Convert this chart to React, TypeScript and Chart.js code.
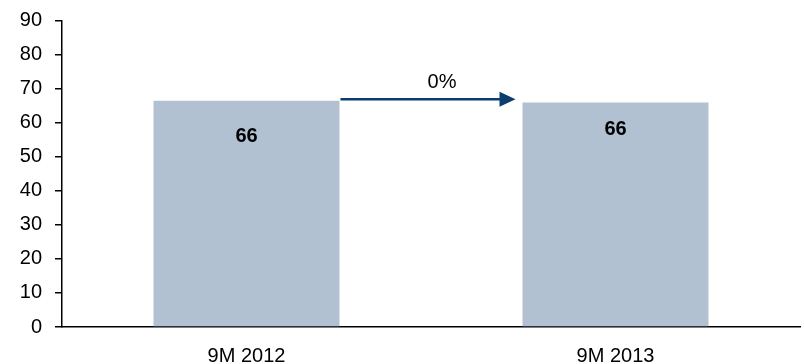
import React, { useEffect, useRef } from "react";
import { Chart, registerables } from "chart.js";

Chart.register(...registerables);

const categories = ["9M 2012", "9M 2013"];
const values = [66.4, 65.9];
const valueLabels = ["66", "66"];
const changeLabel = "0%";
const yTicks = [0, 10, 20, 30, 40, 50, 60, 70, 80, 90];

const FONT = "'Liberation Sans', Arial, sans-serif";
const labelOffsets = [36, 27];

const overlayPlugin = {
  id: "overlay",
  afterDatasetsDraw(chart: any) {
    const ctx = chart.ctx;
    const meta = chart.getDatasetMeta(0);
    const bars = meta.data;
    ctx.save();
    // value labels
    ctx.fillStyle = "#000";
    ctx.font = `bold 20px ${FONT}`;
    ctx.textAlign = "center";
    ctx.textBaseline = "middle";
    bars.forEach((b: any, i: number) => {
      ctx.fillText(valueLabels[i], b.x, b.y + labelOffsets[i]);
    });
    // arrow
    const b1 = bars[0].getProps(["x", "y", "width"], true);
    const b2 = bars[1].getProps(["x", "y", "width"], true);
    const x0 = b1.x + b1.width / 2 + 1;
    const x1 = b2.x - b2.width / 2 - 7;
    const y = b1.y - 1.5;
    const headLen = 16;
    ctx.strokeStyle = "#0B3D6E";
    ctx.fillStyle = "#0B3D6E";
    ctx.lineWidth = 2.5;
    ctx.beginPath();
    ctx.moveTo(x0, y);
    ctx.lineTo(x1 - headLen + 2, y);
    ctx.stroke();
    ctx.beginPath();
    ctx.moveTo(x1, y);
    ctx.lineTo(x1 - headLen, y - 7.5);
    ctx.lineTo(x1 - headLen, y + 7.5);
    ctx.closePath();
    ctx.fill();
    // change label
    ctx.fillStyle = "#000";
    ctx.font = `20px ${FONT}`;
    ctx.fillText(changeLabel, (x0 + x1) / 2 + 14, y - 17);
    ctx.restore();
  },
};

export default function App() {
  const ref = useRef<HTMLCanvasElement>(null);
  useEffect(() => {
    if (!ref.current) return;
    const chart = new Chart(ref.current, {
      type: "bar",
      data: {
        labels: categories,
        datasets: [
          {
            data: values,
            backgroundColor: "#B1C1D1",
            borderWidth: 0,
            categoryPercentage: 1,
            barPercentage: 0.504,
          },
        ],
      },
      options: {
        responsive: false,
        animation: false,
        layout: { padding: { top: 20.5, right: 4, left: 0, bottom: 0 } },
        plugins: { legend: { display: false }, tooltip: { enabled: false } },
        scales: {
          x: {
            grid: { display: false },
            border: { display: true, color: "#000", width: 1.5 },
            ticks: {
              color: "#000",
              font: { family: FONT, size: 20 },
              padding: 9,
            },
            afterFit: (s: any) => {
              s.height = 37;
              s.paddingLeft = 0;
              s.paddingRight = 0;
            },
          },
          y: {
            min: 0,
            max: 90,
            afterBuildTicks: (s: any) => {
              s.ticks = yTicks.map((v) => ({ value: v }));
            },
            grid: {
              display: true,
              drawOnChartArea: false,
              drawTicks: true,
              tickLength: 7,
              color: "#000",
              lineWidth: 1.5,
            },
            border: { display: true, color: "#000", width: 1.5 },
            ticks: {
              color: "#000",
              font: { family: FONT, size: 20 },
              padding: 13,
            },
            afterFit: (s: any) => {
              s.width = 62;
              s.paddingTop = 0;
              s.paddingBottom = 0;
            },
          },
        },
      },
      plugins: [overlayPlugin],
    });
    return () => chart.destroy();
  }, []);
  return (
    <div style={{ position: "absolute", left: 0, top: 0, width: 804, height: 364 }}>
      <canvas ref={ref} width={804} height={364} style={{ display: "block" }} />
    </div>
  );
}
